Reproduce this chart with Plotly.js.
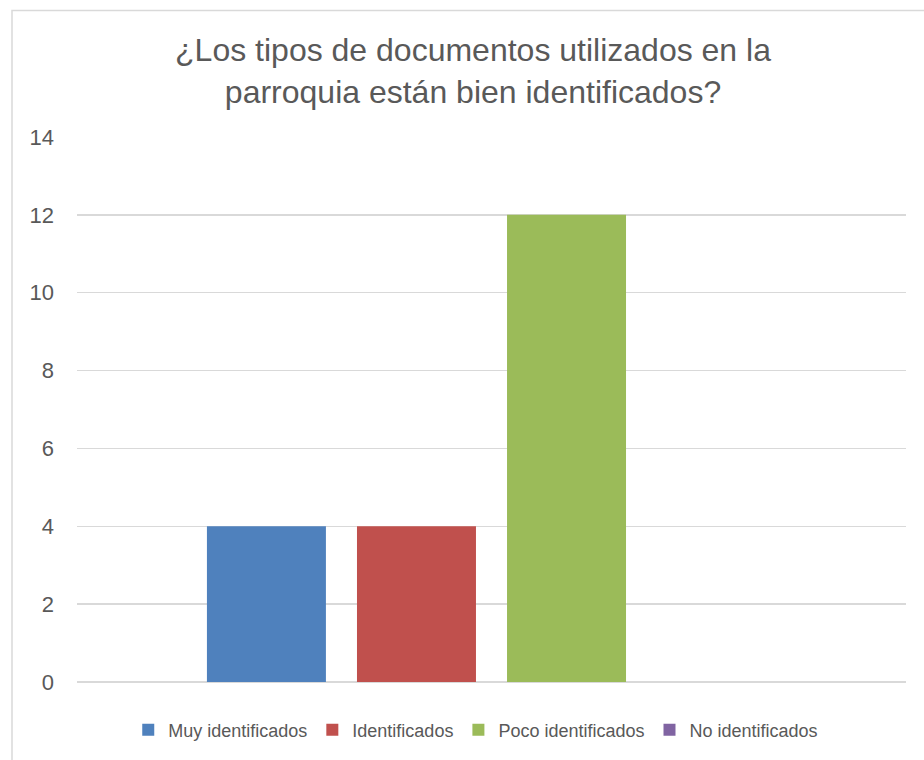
<!DOCTYPE html>
<html>
<head>
<meta charset="utf-8">
<script src="https://cdn.plot.ly/plotly-3.0.1.min.js"></script>
<style>html,body{margin:0;padding:0;background:#fff;}#chart{width:924px;height:760px;}</style>
</head>
<body>
<div id="chart"></div>
<script>
const chartTitle = "¿Los tipos de documentos utilizados en la<br>parroquia están bien identificados?";
const category = ["Respuesta"];
const seriesNames = ["Muy identificados", "Identificados", "Poco identificados", "No identificados"];
const seriesValues = [4, 4, 12, 0];
const seriesColors = ["#4F81BD", "#C0504D", "#9BBB59", "#8064A2"];
const yTicks = [0, 2, 4, 6, 8, 10, 12, 14];

const traces = seriesNames.map((n, i) => ({
  type: "bar",
  name: n,
  x: category,
  y: [seriesValues[i]],
  marker: {color: seriesColors[i]},
  hoverinfo: "name+y"
}));

const layout = {
  width: 924, height: 760,
  margin: {l: 77, r: 18, t: 137, b: 76},
  paper_bgcolor: "#fff", plot_bgcolor: "#fff",
  font: {family: "Liberation Sans, Arial, sans-serif", color: "#595959"},
  title: {
    text: chartTitle,
    font: {size: 32, color: "#595959"},
    x: 473/924, xanchor: "center", xref: "container",
    y: 1 - 61/760, yanchor: "middle", yref: "container"
  },
  barmode: "group",
  bargap: 0.276,
  bargroupgap: 0.207,
  xaxis: {showticklabels: false, showgrid: false, zeroline: false, showline: false, ticks: ""},
  yaxis: {
    range: [0, 14], tickvals: yTicks, ticktext: yTicks.map(String),
    showgrid: true, gridcolor: "#D9D9D9", gridwidth: 1.5,
    zeroline: true, zerolinecolor: "#D9D9D9", zerolinewidth: 1.5,
    showline: false, ticks: "", ticklabelstandoff: 22,
    tickfont: {size: 22, color: "#595959"}
  },
  showlegend: true,
  legend: {
    orientation: "h", x: 0.481, xanchor: "center", y: -0.088, yanchor: "middle",
    font: {size: 18, color: "#595959"}, itemwidth: 30, traceorder: "normal"
  },
  shapes: [{
    type: "rect", xref: "paper", yref: "paper",
    x0: (12-77)/829, x1: (935-77)/829, y0: (684-775)/547, y1: (684-10)/547,
    line: {color: "#D9D9D9", width: 1.5}, fillcolor: "rgba(0,0,0,0)", layer: "below"
  }]
};

Plotly.newPlot("chart", traces, layout, {displayModeBar: false, staticPlot: true});
</script>
</body>
</html>
